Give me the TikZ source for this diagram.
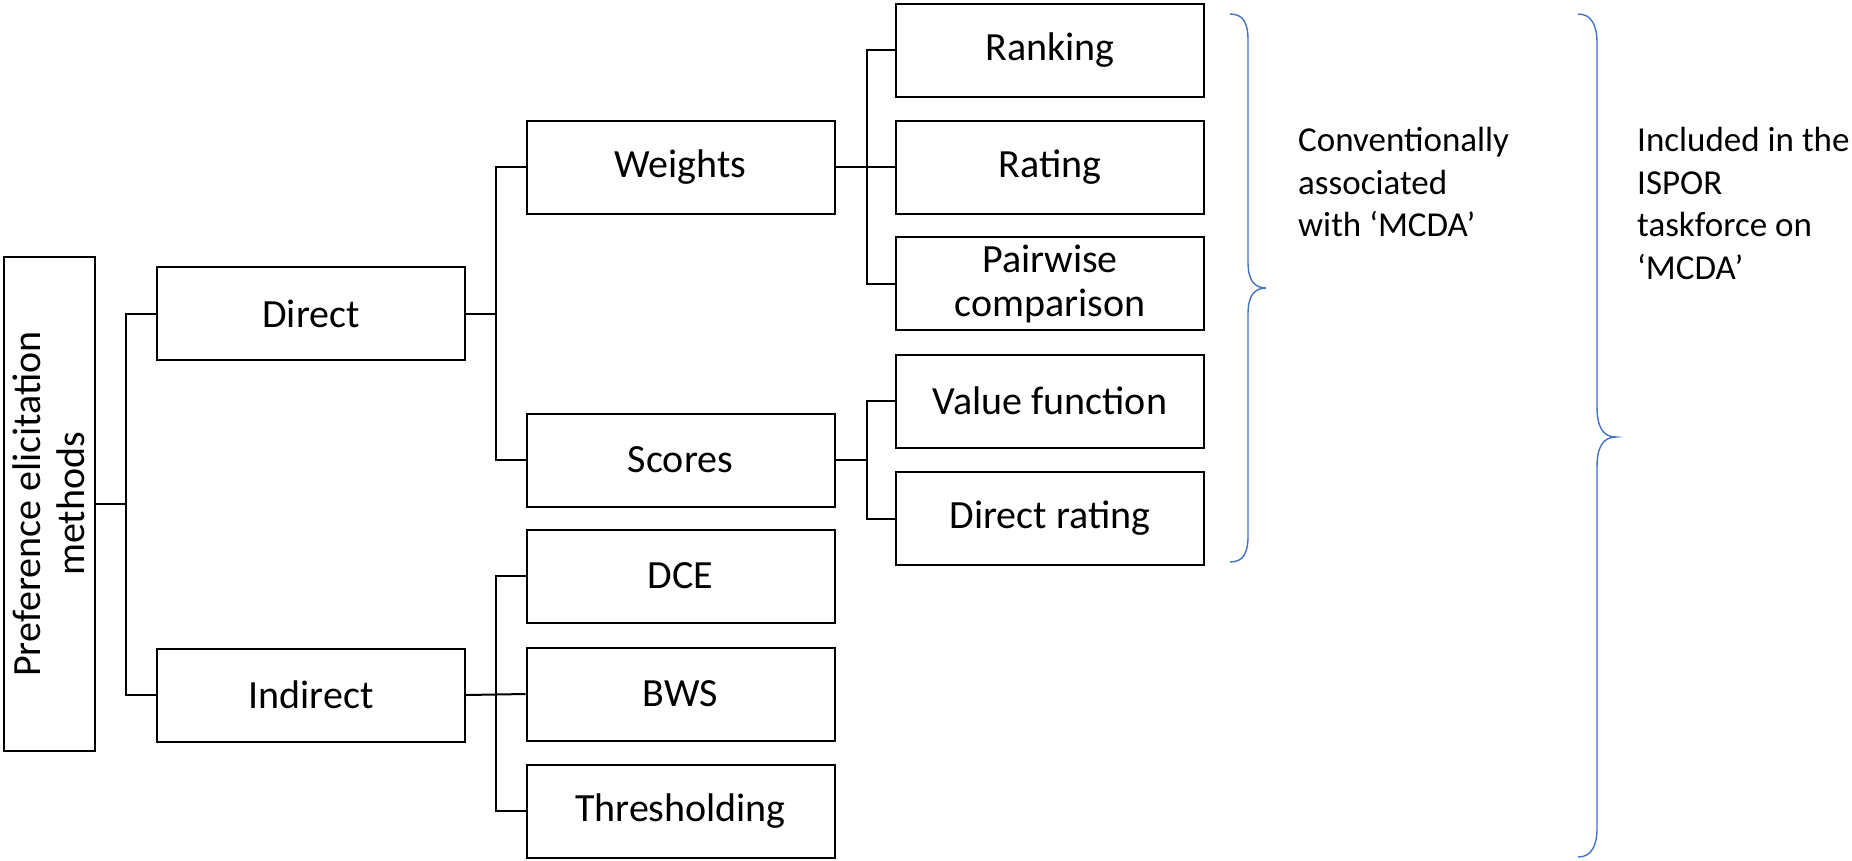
\documentclass[tikz,border=0pt]{standalone}
\usepackage{fontspec}
\setmainfont{Carlito}
\definecolor{bracecol}{HTML}{4472C4}
\begin{document}
\begin{tikzpicture}[x=1pt,y=-1pt,
  box/.style={draw=black, line width=2pt, inner sep=0pt, minimum height=93pt, minimum width=308pt, align=center, font=\fontsize{40}{44}\selectfont},
  conn/.style={draw=black, line width=2pt},
  brc/.style={draw=bracecol, line width=1.4pt},
  note/.style={anchor=base west, inner sep=0pt, align=left, font=\fontsize{35}{42.5}\selectfont}]
\useasboundingbox (0,0) rectangle (1852,860);
% nodes
\node[box, rotate=90, minimum width=494pt, minimum height=91pt] (root) at (49,504) {Preference elicitation\\methods};
\node[box] (direct) at (311,313.5) {Direct};
\node[box] (indirect) at (311,695) {Indirect};
\node[box] (weights) at (680.5,167) {Weights};
\node[box] (scores) at (680.5,460) {Scores};
\node[box] (dce) at (680.5,576) {DCE};
\node[box] (bws) at (680.5,694) {BWS};
\node[box] (thresh) at (680.5,811) {Thresholding};
\node[box] (ranking) at (1050,50) {Ranking};
\node[box] (rating) at (1050,167) {Rating};
\node[box] (pairwise) at (1050,283.5) {Pairwise\\comparison};
\node[box] (valuef) at (1050,401) {Value function};
\node[box] (drating) at (1050,518.5) {Direct rating};
% trunk coordinates
\coordinate (t1) at (126,0);
\coordinate (t2) at (496,0);
\coordinate (t3) at (867,0);
% connectors
\draw[conn] (root.south) -- (root.south -| t1);
\draw[conn] (direct.west) -| (direct.west -| t1) |- (indirect.west);
\draw[conn] (direct.east) -- (direct.east -| t2);
\draw[conn] (weights.west) -| (weights.west -| t2) |- (scores.west);
\draw[conn] (indirect.east) -- (bws.west);
\draw[conn] (dce.west) -| (dce.west -| t2) |- (thresh.west);
\draw[conn] (weights.east) -- (rating.west);
\draw[conn] (ranking.west) -| (ranking.west -| t3) |- (pairwise.west);
\draw[conn] (scores.east) -- (scores.east -| t3);
\draw[conn] (valuef.west) -| (valuef.west -| t3) |- (drating.west);
% braces
\coordinate (b1top) at (1230,14);
\coordinate (b1tip) at (1266,288);
\coordinate (b1bot) at (1230,562);
\draw[brc] (b1top) .. controls (1244,14) and (1248,24) .. (1248,40)
  -- (1248,262) .. controls (1248,280) and (1254,288) .. (b1tip)
  .. controls (1254,288) and (1248,296) .. (1248,314)
  -- (1248,536) .. controls (1248,552) and (1244,562) .. (b1bot);
\coordinate (b2top) at (1578,14);
\coordinate (b2tip) at (1616,437);
\coordinate (b2bot) at (1578,857);
\draw[brc] (b2top) .. controls (1592,14) and (1597,26) .. (1597,43)
  -- (1597,407) .. controls (1597,427) and (1603,437) .. (b2tip)
  .. controls (1603,437) and (1597,447) .. (1597,467)
  -- (1597,828) .. controls (1597,845) and (1592,857) .. (b2bot);
% notes
\node[note] (conv) at (1298,236.7) {Conventionally\\associated\\with ‘MCDA’};
\node[note] (ispor) at (1637,279.2) {Included in the\\ISPOR\\taskforce on\\‘MCDA’};
\end{tikzpicture}
\end{document}
